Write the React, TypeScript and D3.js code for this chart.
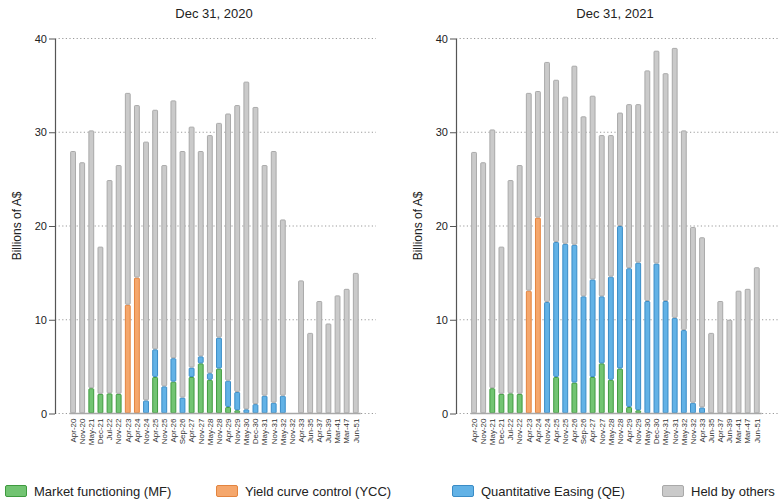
import { useEffect, useRef } from 'react';
import * as d3 from 'd3';

const bonds = [
  'Apr-20', 'Nov-20', 'May-21', 'Dec-21', 'Jul-22', 'Nov-22', 'Apr-23', 'Apr-24',
  'Nov-24', 'Apr-25', 'Nov-25', 'Apr-26', 'Sep-26', 'Apr-27', 'Nov-27', 'May-28',
  'Nov-28', 'Apr-29', 'Nov-29', 'May-30', 'Dec-30', 'May-31', 'Nov-31', 'May-32',
  'Nov-32', 'Apr-33', 'Jun-35', 'Apr-37', 'Jun-39', 'Mar-41', 'Mar-47', 'Jun-51',
];

const yTicks = [0, 10, 20, 30, 40];

// 2020: total outstanding per line, and RBA holdings by programme
const total2020 = [28.0, 26.8, 30.2, 17.8, 24.9, 26.5, 34.2, 32.9, 29.0, 32.4, 26.5, 33.4, 28.0, 30.6, 28.0, 29.7,
  31.0, 32.0, 32.9, 35.4, 32.7, 26.5, 28.0, 20.7, null, 14.2, 8.6, 12.0, 9.6, 12.6, 13.3, 15.0];
const mf2020 = [0, 0, 2.7, 2.1, 2.15, 2.1, 0, 0, 0, 3.9, 0, 3.4, 0, 3.9, 5.35, 3.6,
  4.8, 0.7, 0.35, 0, 0, 0, 0, 0, 0, 0, 0, 0, 0, 0, 0, 0];
const ycc2020 = [0, 0, 0, 0, 0, 0, 11.6, 14.5, 0, 0, 0, 0, 0, 0, 0, 0,
  0, 0, 0, 0, 0, 0, 0, 0, 0, 0, 0, 0, 0, 0, 0, 0];
const qe2020 = [0, 0, 0, 0, 0, 0, 0, 0, 1.4, 2.95, 2.9, 2.5, 1.7, 1.0, 0.75, 0.7,
  3.3, 2.8, 1.95, 0.45, 1.0, 1.9, 1.15, 1.9, 0, 0, 0, 0, 0, 0, 0, 0];

// 2021
const total2021 = [27.9, 26.8, 30.3, 17.8, 24.9, 26.5, 34.2, 34.4, 37.5, 35.6, 33.8, 37.1, 31.7, 33.9, 29.7, 29.7,
  32.1, 33.0, 33.0, 36.6, 38.7, 36.3, 39.0, 30.2, 19.9, 18.8, 8.6, 12.0, 10.0, 13.1, 13.3, 15.6];
const mf2021 = [0, 0, 2.7, 2.1, 2.15, 2.1, 0, 0, 0, 3.9, 0, 3.3, 0, 3.9, 5.35, 3.6,
  4.8, 0.7, 0.35, 0, 0, 0, 0, 0, 0, 0, 0, 0, 0, 0, 0, 0];
const ycc2021 = [0, 0, 0, 0, 0, 0, 13.1, 20.9, 0, 0, 0, 0, 0, 0, 0, 0,
  0, 0, 0, 0, 0, 0, 0, 0, 0, 0, 0, 0, 0, 0, 0, 0];
const qe2021 = [0, 0, 0, 0, 0, 0, 0, 0, 11.9, 14.4, 18.1, 14.7, 12.5, 10.4, 7.15, 11.0,
  15.2, 14.8, 15.75, 12.0, 16.0, 12.0, 10.2, 8.9, 1.15, 0.65, 0, 0, 0, 0, 0, 0];

const series = [
  { key: 'MF', label: 'Market functioning (MF)', fill: '#72c472', stroke: '#3f9a3f' },
  { key: 'YCC', label: 'Yield curve control (YCC)', fill: '#f5a76c', stroke: '#e3843f' },
  { key: 'QE', label: 'Quantitative Easing (QE)', fill: '#62b2e6', stroke: '#3a8cc6' },
  { key: 'Others', label: 'Held by others', fill: '#cacaca', stroke: '#a9a9a9' },
];

const panels = [
  { title: 'Dec 31, 2020', x0: 55, total: total2020, mf: mf2020, ycc: ycc2020, qe: qe2020 },
  { title: 'Dec 31, 2021', x0: 456, total: total2021, mf: mf2021, ycc: ycc2021, qe: qe2021 },
];

const FONT = '"Liberation Sans", Arial, Helvetica, sans-serif';

export default function App() {
  const svgRef = useRef<SVGSVGElement>(null);

  useEffect(() => {
    if (!svgRef.current) return;
    const svg = d3.select(svgRef.current);
    svg.selectAll('*').remove();
    svg.attr('font-family', FONT);

    const y = d3.scaleLinear().domain([0, 40]).range([413.5, 38.5]);

    panels.forEach((p) => {
      const g = svg.append('g');
      const bandStart = p.x0 + 13.5;
      const x = d3.scaleBand()
        .domain(bonds)
        .range([bandStart, bandStart + bonds.length * 9.12])
        .paddingInner(0.36)
        .paddingOuter(0.18);
      const gridEnd = p.x0 === 55 ? 376 : 778;

      // dotted gridlines
      g.selectAll('.grid')
        .data(yTicks)
        .enter()
        .append('line')
        .attr('x1', p.x0)
        .attr('x2', gridEnd)
        .attr('y1', (d) => y(d))
        .attr('y2', (d) => y(d))
        .attr('stroke', '#9a9a9a')
        .attr('stroke-width', 1.2)
        .attr('stroke-dasharray', '1.2,2.4');

      // y axis
      const yAxis = g.append('g')
        .attr('transform', `translate(${p.x0},0)`)
        .call(d3.axisLeft(y).tickValues(yTicks).tickSize(6).tickPadding(2).tickSizeOuter(0));
      yAxis.select('.domain').attr('stroke', '#555').attr('stroke-width', 1.2);
      yAxis.selectAll('.tick line').attr('stroke', '#555');
      yAxis.selectAll('.tick text')
        .attr('font-size', 11)
        .attr('fill', '#222')
        .attr('font-family', FONT);

      // stacked bars
      const rows = bonds.map((b, i) => {
        const tot = p.total[i];
        const mf = p.mf[i];
        const ycc = p.ycc[i];
        const qe = p.qe[i];
        return { b, tot, segs: [
          { s: series[0], y0: 0, y1: mf },
          { s: series[1], y0: mf, y1: mf + ycc },
          { s: series[2], y0: mf + ycc, y1: mf + ycc + qe },
          { s: series[3], y0: mf + ycc + qe, y1: tot == null ? 0 : tot },
        ] };
      });

      rows.forEach((r) => {
        if (r.tot == null) return;
        r.segs.forEach((sg) => {
          if (sg.y1 - sg.y0 <= 0) return;
          g.append('rect')
            .attr('x', (x(r.b) || 0) + 0.5)
            .attr('y', y(sg.y1) + 0.5)
            .attr('width', x.bandwidth() - 1)
            .attr('height', Math.max(0.5, y(sg.y0) - y(sg.y1) - 1))
            .attr('fill', sg.s.fill)
            .attr('stroke', sg.s.stroke)
            .attr('stroke-width', 1)
            .attr('rx', 0.8);
        });
      });

      // baseline
      g.append('line')
        .attr('x1', bandStart + 1)
        .attr('x2', (x(bonds[bonds.length - 1]) || 0) + x.bandwidth() + 2)
        .attr('y1', y(0))
        .attr('y2', y(0))
        .attr('stroke', '#a8a8a8')
        .attr('stroke-width', 1.6);

      // x labels
      g.selectAll('.xl')
        .data(bonds)
        .enter()
        .append('text')
        .attr('transform', (d) => `translate(${(x(d) || 0) + x.bandwidth() / 2 + 2.8},${y(0) + 5}) rotate(-90)`)
        .attr('text-anchor', 'end')
        .attr('font-size', 8)
        .attr('fill', '#333')
        .text((d) => d);

      // y title
      g.append('text')
        .attr('transform', `translate(${p.x0 - 34},226) rotate(-90)`)
        .attr('text-anchor', 'middle')
        .attr('font-size', 12)
        .attr('fill', '#222')
        .text('Billions of A$');

      // panel title
      g.append('text')
        .attr('x', p.x0 + 159)
        .attr('y', 18)
        .attr('text-anchor', 'middle')
        .attr('font-size', 13)
        .attr('fill', '#222')
        .text(p.title);
    });

    // legend
    const legendX = [5, 216, 452, 662];
    const lg = svg.append('g');
    series.forEach((s, i) => {
      lg.append('rect')
        .attr('x', legendX[i] + 0.5)
        .attr('y', 485.5)
        .attr('width', 21)
        .attr('height', 11)
        .attr('rx', 1.5)
        .attr('fill', s.fill)
        .attr('stroke', s.stroke);
      lg.append('text')
        .attr('x', legendX[i] + 29)
        .attr('y', 495.5)
        .attr('font-size', 13)
        .attr('fill', '#222')
        .text(s.label);
    });
  }, []);

  return (
    <div style={{ position: 'absolute', left: 0, top: 0 }}>
      <svg ref={svgRef} width={779} height={502} style={{ display: 'block', background: '#fff' }} />
    </div>
  );
}
